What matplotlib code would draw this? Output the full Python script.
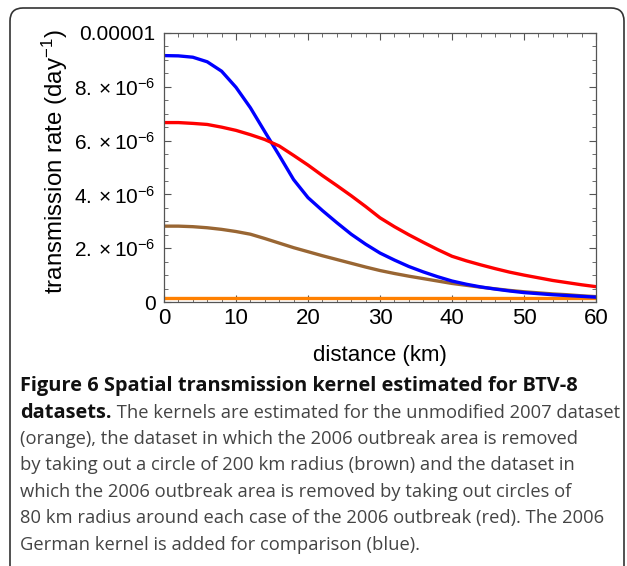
import numpy as np
import matplotlib.pyplot as plt
from matplotlib.patches import FancyBboxPatch
from matplotlib.ticker import MultipleLocator, FixedLocator, FixedFormatter

plt.rcParams['font.family'] = ['Liberation Sans', 'DejaVu Sans']
plt.rcParams['mathtext.fontset'] = 'custom'
plt.rcParams['mathtext.rm'] = 'Liberation Sans'
plt.rcParams['mathtext.it'] = 'Liberation Sans:italic'
plt.rcParams['mathtext.fallback'] = 'stixsans'

# distance (km) and kernel values (units of 1e-6 per day)
distance = [0, 2, 4, 6, 8, 10, 12, 14, 16, 18, 20, 22, 24, 26, 28, 30,
            32, 34, 36, 38, 40, 42, 44, 46, 48, 50, 52, 54, 56, 58, 60]
german_2006 = [9.16, 9.15, 9.10, 8.93, 8.58, 7.98, 7.22, 6.33, 5.45, 4.55, 3.88, 3.40, 2.95, 2.52, 2.15, 1.82,
               1.56, 1.32, 1.12, 0.94, 0.78, 0.66, 0.56, 0.48, 0.41, 0.35, 0.31, 0.27, 0.24, 0.21, 0.18]
removed_80km = [6.67, 6.67, 6.64, 6.60, 6.50, 6.38, 6.22, 6.04, 5.80, 5.45, 5.09, 4.70, 4.33, 3.95, 3.55, 3.13,
                2.80, 2.50, 2.22, 1.95, 1.70, 1.53, 1.38, 1.24, 1.11, 1.00, 0.90, 0.80, 0.72, 0.64, 0.57]
removed_200km = [2.82, 2.82, 2.80, 2.76, 2.70, 2.62, 2.52, 2.36, 2.19, 2.02, 1.87, 1.72, 1.58, 1.44, 1.30, 1.17,
                 1.06, 0.96, 0.87, 0.78, 0.69, 0.62, 0.55, 0.49, 0.43, 0.38, 0.34, 0.30, 0.27, 0.23, 0.20]
unmodified_2007 = [0.15] * len(distance)

ytick_vals = [0, 2e-6, 4e-6, 6e-6, 8e-6, 1e-5]
ytick_labels = ["0", r"$2.\times10^{-6}$", r"$4.\times10^{-6}$", r"$6.\times10^{-6}$",
                r"$8.\times10^{-6}$", "0.00001"]

fig = plt.figure(figsize=(6.27, 5.66), dpi=100)
ax = fig.add_axes([164 / 627, 1 - 302 / 566, 432 / 627, 269 / 566])

scale = 1e-6
ax.plot(distance, np.array(unmodified_2007) * scale, color="#ff8000", lw=2.4)
ax.plot(distance, np.array(removed_200km) * scale, color="#996633", lw=2.4)
ax.plot(distance, np.array(german_2006) * scale, color="#0000ff", lw=2.4)
ax.plot(distance, np.array(removed_80km) * scale, color="#ff0000", lw=2.4)

ax.set_xlim(0, 60)
ax.set_ylim(0, 1e-5)
ax.xaxis.set_major_locator(MultipleLocator(10))
ax.xaxis.set_minor_locator(MultipleLocator(2))
ax.yaxis.set_major_locator(FixedLocator(ytick_vals))
ax.yaxis.set_major_formatter(FixedFormatter(ytick_labels))
ax.yaxis.set_minor_locator(MultipleLocator(5e-7))
ax.tick_params(which="both", direction="in", top=True, right=True, color="#555555")
ax.tick_params(which="major", length=5, width=0.8)
ax.tick_params(which="minor", length=3, width=0.6)
ax.tick_params(axis="x", labelsize=16, pad=4)
ax.tick_params(axis="y", labelsize=15, pad=6)
for s in ax.spines.values():
    s.set_color("#555555")
    s.set_linewidth(0.9)

ax.set_xlabel("distance (km)", fontsize=16, labelpad=12)
ax.set_ylabel(r"transmission rate (day$^{-1}$)", fontsize=17.3, labelpad=3)
ax.yaxis.label.set_y(0.52)

# rounded frame around the figure
frame = FancyBboxPatch((0.10, -0.3), 6.14, 5.88, boxstyle="round,pad=0,rounding_size=0.13",
                       transform=fig.dpi_scale_trans, fill=False, ec="#333333", lw=1.2)
fig.add_artist(frame)

# caption
reg_kw = dict(fontsize=13.2, family=["Open Sans", "DejaVu Sans"], va="baseline", color="#444444")
bold_kw = dict(fontsize=14.4, family=["Open Sans", "DejaVu Sans"], va="baseline",
               fontweight="bold", color="#111111")
x0 = 20 / 627
baselines = [391, 418, 444, 470, 497, 523, 550]
fig.text(x0, 1 - baselines[0] / 566, "Figure 6 Spatial transmission kernel estimated for BTV-8", **bold_kw)
t = fig.text(x0, 1 - baselines[1] / 566, "datasets.", **bold_kw)
ax.annotate(" The kernels are estimated for the unmodified 2007 dataset",
            xy=(1, 1 - baselines[1] / 566), xycoords=(t, "figure fraction"),
            annotation_clip=False, **reg_kw)
rest = ["(orange), the dataset in which the 2006 outbreak area is removed",
        "by taking out a circle of 200 km radius (brown) and the dataset in",
        "which the 2006 outbreak area is removed by taking out circles of",
        "80 km radius around each case of the 2006 outbreak (red). The 2006",
        "German kernel is added for comparison (blue)."]
for line, b in zip(rest, baselines[2:]):
    fig.text(x0, 1 - b / 566, line, **reg_kw)

fig.savefig("out.png", dpi=100)
